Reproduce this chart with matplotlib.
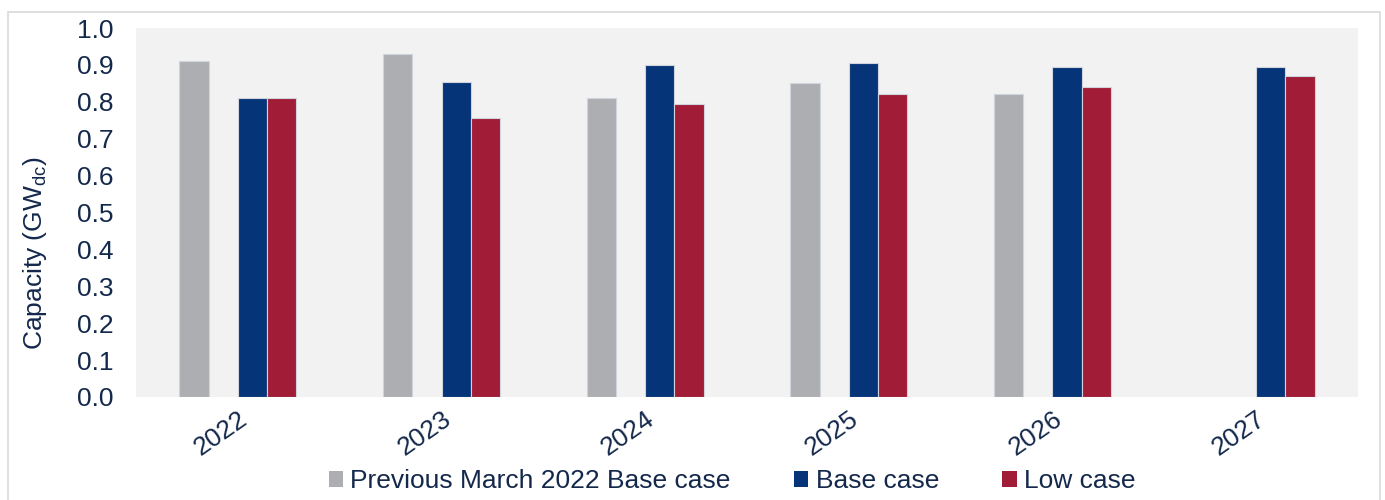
import numpy as np
import matplotlib
matplotlib.use("Agg")
import matplotlib.pyplot as plt
from matplotlib.patches import Rectangle

plt.rcParams['font.family'] = ['Liberation Sans', 'DejaVu Sans']
plt.rcParams['mathtext.fontset'] = 'custom'
plt.rcParams['mathtext.rm'] = 'Liberation Sans'
plt.rcParams['mathtext.it'] = 'Liberation Sans'

# Data
years = ['2022', '2023', '2024', '2025', '2026', '2027']
previous_base = [0.91, 0.93, 0.81, 0.85, 0.82, np.nan]
base_case = [0.81, 0.855, 0.90, 0.905, 0.895, 0.895]
low_case = [0.81, 0.755, 0.795, 0.82, 0.84, 0.87]

TEXT = '#13284b'
GREY = '#adaeb1'
BLUE = '#063479'
RED = '#a01c37'

fig = plt.figure(figsize=(13.85, 5), dpi=100)
ax = fig.add_axes([0.0982, 0.206, 0.8823, 0.738])
ax.set_facecolor('#f2f2f2')

x = np.arange(len(years))
w = 0.144
edge = dict(edgecolor='#d0d4dc', linewidth=0.8)
ax.bar(x - 1.5 * w, previous_base, w, color=GREY, label='Previous March 2022 Base case', **edge)
ax.bar(x + 0.5 * w, base_case, w, color=BLUE, label='Base case', **edge)
ax.bar(x + 1.5 * w, low_case, w, color=RED, label='Low case', **edge)

ax.set_xlim(-0.5, len(years) - 0.5)
ax.set_ylim(0, 1.0)
ax.set_yticks(np.arange(0, 1.01, 0.1))
ax.set_yticklabels([f'{v:.1f}' for v in np.arange(0, 1.01, 0.1)])
ax.set_xticks(x)
ax.set_xticklabels(years, rotation=35, ha='right', rotation_mode='anchor')
for s in ax.spines.values():
    s.set_visible(False)
ax.tick_params(axis='y', length=0, pad=16, labelsize=19, labelcolor=TEXT)
ax.tick_params(axis='x', length=0, pad=7, labelsize=19, labelcolor=TEXT)
for lab in ax.get_xticklabels():
    lab.set_x(lab.get_position()[0] + 0.04)

ax.set_ylabel('Capacity (GW$_{\\mathrm{dc}}$)', fontsize=19, color=TEXT, labelpad=20)
ax.yaxis.label.set_y(0.39)

leg = fig.legend(loc='center', bbox_to_anchor=(0.5285, 0.038), ncol=3, frameon=False,
                 fontsize=19, handlelength=0.55, handleheight=0.55, handletextpad=0.27,
                 columnspacing=2.4, labelcolor=TEXT)
for h in leg.legend_handles:
    h.set_edgecolor('none')

fig.patches.append(Rectangle((8 / 1385, -0.01), 1372 / 1385, 1 - 12 / 500 + 0.01,
                             transform=fig.transFigure, fill=False,
                             edgecolor='#d9d9d9', linewidth=1.2))

fig.savefig('out.png', dpi=100, facecolor='white')
